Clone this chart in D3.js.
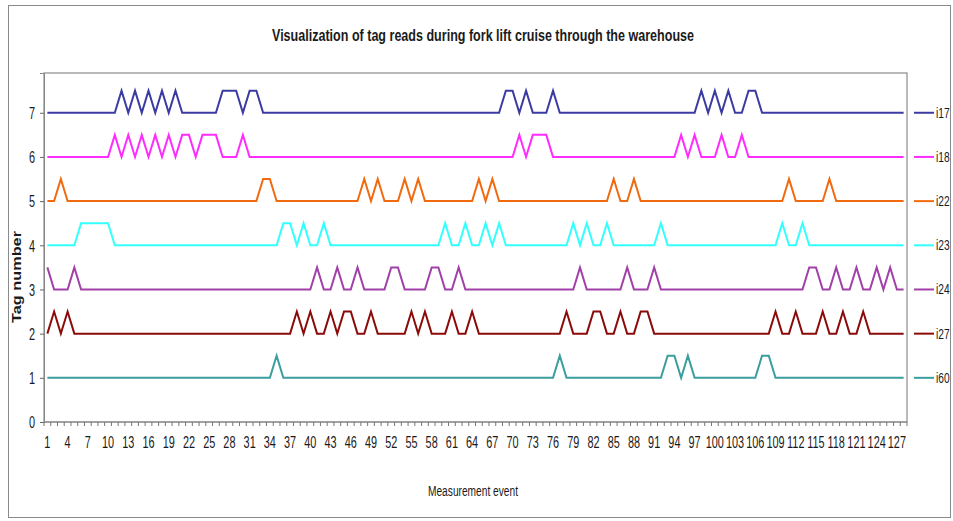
<!DOCTYPE html>
<html>
<head>
<meta charset="utf-8">
<script src="https://cdn.jsdelivr.net/npm/d3@7"></script>
<style>
  body { margin: 0; background: #fff; }
  text { font-family: "Liberation Sans", Arial, sans-serif; fill: #1a1a1a; }
</style>
</head>
<body>
<div id="chart"></div>
<script>
// measurement events 1..128, labels every third
const events = d3.range(1, 129);
const tickLabels = d3.range(1, 128, 3);
const yTicks = [0, 1, 2, 3, 4, 5, 6, 7];

// tags, their base level and the events where each was read (+0.5)
const tags = ["i17", "i18", "i22", "i23", "i24", "i27", "i60"];
const levels = [7, 6, 5, 4, 3, 2, 1];
const colors = ["#3b3ba3", "#ff2bff", "#f26a10", "#33ffff", "#a040a8", "#8b0a0a", "#3a9e9e"];

const reads_i17 = [12, 14, 16, 18, 20, 27, 28, 29, 31, 32, 69, 70, 72, 76, 98, 100, 102, 105, 106];
const reads_i18 = [11, 13, 15, 17, 19, 21, 22, 24, 25, 26, 30, 71, 73, 74, 75, 95, 97, 101, 104];
const reads_i22 = [3, 33, 34, 48, 50, 54, 56, 65, 67, 85, 88, 111, 117];
const reads_i23 = [6, 7, 8, 9, 10, 36, 37, 39, 42, 60, 63, 66, 68, 79, 81, 84, 92, 110, 113];
const reads_i24 = [1, 5, 41, 44, 47, 52, 53, 58, 59, 62, 80, 87, 91, 114, 115, 118, 121, 124, 126];
const reads_i27 = [2, 4, 38, 40, 43, 45, 46, 49, 55, 57, 61, 64, 78, 82, 83, 86, 89, 90, 109, 112, 116, 119, 122];
const reads_i60 = [35, 77, 93, 94, 96, 107, 108];
const reads = [reads_i17, reads_i18, reads_i22, reads_i23, reads_i24, reads_i27, reads_i60];

const W = 953, H = 521;
const NARROW = 0.68;   // the original uses a condensed font
const svg = d3.select("#chart").append("svg").attr("width", W).attr("height", H);

// outer frame
svg.append("rect").attr("x", 8.5).attr("y", 5.5).attr("width", 942).attr("height", 512)
    .attr("fill", "none").attr("stroke", "#8a8a8a");

const pl = 44, pr = 907, pt = 73, pb = 422;
const x = d3.scaleBand().domain(events).range([pl, pr]);
const y = d3.scaleLinear().domain([0, 7.9]).range([pb, pt]);
const cx = d => x(d) + x.bandwidth() / 2;

// plot area border
svg.append("rect").attr("x", pl).attr("y", pt).attr("width", pr - pl).attr("height", pb - pt)
    .attr("fill", "none").attr("stroke", "#8c8c8c").attr("stroke-width", 1.2);

function narrowText(px, py, str, size, anchor) {
    return svg.append("text")
        .attr("transform", `translate(${px},${py}) scale(${NARROW},1)`)
        .attr("text-anchor", anchor || "middle")
        .attr("font-size", size).text(str);
}

svg.append("text").attr("x", 483).attr("y", 41).attr("text-anchor", "middle")
    .attr("font-size", 17).attr("font-weight", "bold").attr("fill", "#111")
    .attr("textLength", 422).attr("lengthAdjust", "spacingAndGlyphs")
    .text("Visualization of tag reads during fork lift cruise through the warehouse");

// y axis
const yAxis = svg.append("g").attr("transform", `translate(${pl},0)`)
    .call(d3.axisLeft(y).tickValues(yTicks).tickFormat(d3.format("d")).tickSize(4).tickPadding(6));
yAxis.select(".domain").attr("stroke", "#888");
yAxis.selectAll(".tick line").attr("stroke", "#666");
yAxis.selectAll("text").attr("font-size", 16).attr("font-family", null)
    .attr("transform", `scale(${NARROW},1)`).attr("x", -13).attr("dy", "0.36em");

// x axis: minor ticks at category boundaries, labels every third
const xg = svg.append("g").attr("transform", `translate(0,${pb})`);
xg.append("line").attr("x1", pl).attr("x2", pr).attr("stroke", "#888").attr("stroke-width", 1.2);
xg.selectAll("line.mt").data(events.concat([129])).enter().append("line")
    .attr("class", "mt")
    .attr("x1", d => d === 129 ? pr : x(d)).attr("x2", d => d === 129 ? pr : x(d))
    .attr("y1", 0).attr("y2", 4).attr("stroke", "#777");
tickLabels.forEach(d => narrowText(cx(d), pb + 26, d, 16));

narrowText(473, 496, "Measurement event", 15);
svg.append("text").attr("transform", "translate(21,277) rotate(-90)").attr("text-anchor", "middle")
    .attr("font-size", 13).attr("font-weight", "bold").attr("textLength", 92).attr("lengthAdjust", "spacingAndGlyphs")
    .text("Tag number");

// series
const line = d3.line().x(d => cx(d.e)).y(d => y(d.v));
tags.forEach((t, i) => {
    const set = new Set(reads[i]);
    const vals = events.map(e => ({ e: e, v: levels[i] + (set.has(e) ? 0.5 : 0) }));
    svg.append("path").datum(vals).attr("d", line)
        .attr("fill", "none").attr("stroke", colors[i]).attr("stroke-width", 2)
        .attr("stroke-linejoin", "miter");

    // legend
    const ly = y(levels[i]);
    svg.append("line").attr("x1", 914).attr("x2", 934).attr("y1", ly).attr("y2", ly)
        .attr("stroke", colors[i]).attr("stroke-width", 2);
    narrowText(936, ly + 5, t, 15, "start");
});
</script>
</body>
</html>
